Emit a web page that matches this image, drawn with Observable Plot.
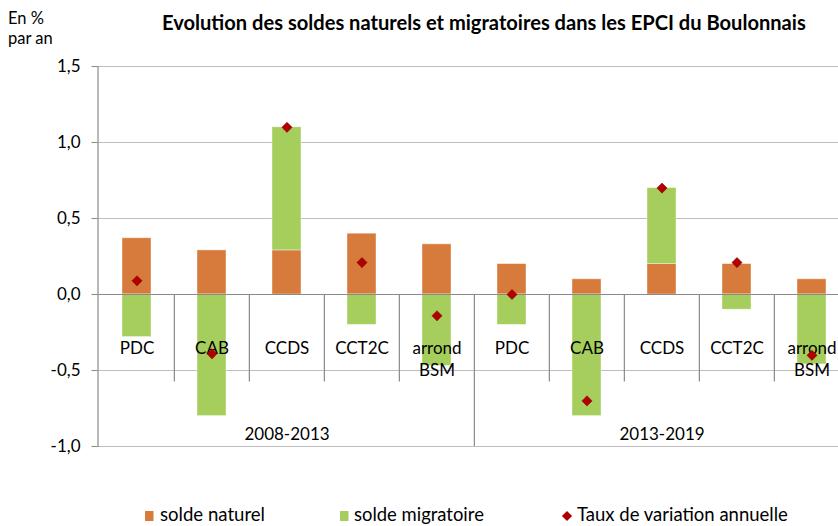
<!DOCTYPE html>
<html>
<head>
<meta charset="utf-8">
<script src="https://cdn.jsdelivr.net/npm/d3@7"></script>
<script src="https://cdn.jsdelivr.net/npm/@observablehq/plot@0.6"></script>
<style>
  html, body { margin: 0; padding: 0; background: #fff; overflow: hidden; }
  #wrap { position: relative; width: 838px; height: 526px; overflow: hidden; font-family: Lato, sans-serif; }
  #wrap > svg.plot-chart { position: absolute; left: 0; top: 0; }
  #overlay { position: absolute; left: 0; top: 0; pointer-events: none; }
</style>
</head>
<body>
<div id="wrap"></div>
<script>
// ---- data ----
const titleText = "Evolution des soldes naturels et migratoires dans les EPCI du Boulonnais";
const unitLines = ["En %", "par an"];
const periods = ["2008-2013", "2013-2019"];
const zones = ["PDC", "CAB", "CCDS", "CCT2C", "arrond\nBSM"];
const soldeNaturel    = [0.37, 0.29, 0.29, 0.40, 0.33,  0.20, 0.10, 0.20, 0.20, 0.10];
const soldeMigratoire = [-0.28, -0.80, 0.81, -0.20, -0.47, -0.20, -0.80, 0.50, -0.10, -0.46];
const tauxVariation   = [0.09, -0.39, 1.10, 0.21, -0.14,  0.00, -0.70, 0.70, 0.21, -0.40];
const seriesNames = ["solde naturel", "solde migratoire"];
const seriesColors = ["#D67B3B", "#A5CE5C"];
const tauxName = "Taux de variation annuelle";
const tauxColor = "#B00000";
const yTicks = [-1, -0.5, 0, 0.5, 1, 1.5];

// ---- build tables ----
const cats = periods.flatMap((p, pi) => zones.map((z, zi) => {
  const i = pi * zones.length + zi;
  return {period: p, zone: z, key: p + "|" + z, first: zi === 0,
          nat: soldeNaturel[i], mig: soldeMigratoire[i], taux: tauxVariation[i]};
}));
const bars = cats.flatMap(c => [
  {key: c.key, serie: seriesNames[0], value: c.nat},
  {key: c.key, serie: seriesNames[1], value: c.mig}
]);

const x0 = 97.5, step = 75.3;
const fmt = d => d.toFixed(1).replace(".", ",");

const chart = Plot.plot({
  width: 838, height: 470,
  marginTop: 66, marginBottom: 24, marginLeft: x0, marginRight: 0,
  style: {fontFamily: "Lato, sans-serif", fontSize: "17px", color: "#000", background: "transparent"},
  x: {type: "band", domain: cats.map(c => c.key), range: [x0, x0 + step * cats.length], padding: 0, axis: null},
  y: {domain: [-1, 1.5], axis: null},
  color: {domain: seriesNames, range: seriesColors},
  marks: [
    Plot.ruleY(yTicks.filter(t => t !== 0), {stroke: "#bdbdbd", strokeWidth: 1.2}),
    Plot.barY(bars, {x: "key", y: "value", fill: "serie", insetLeft: 23, insetRight: 23,
                     stroke: "#fff", strokeOpacity: 0.5, strokeWidth: 0.8}),
    Plot.ruleY([0], {stroke: "#8a8a8a", strokeWidth: 1.2}),
    Plot.ruleX(cats.filter((c, i) => i > 0), {x: "key", dx: -step / 2, y1: () => 0,
               y2: c => c.first ? -1 : -0.575, stroke: "#8a8a8a", strokeWidth: 1.2}),
    Plot.frame({anchor: "left", stroke: "#8a8a8a", strokeWidth: 1.2}),
    Plot.axisY({ticks: yTicks, tickFormat: fmt, tickSize: 6, tickPadding: 11.5,
                stroke: "#8a8a8a", fontSize: 17, fill: "#000"}),
    Plot.text(cats, {x: "key", y: () => 0, text: "zone", dy: 44, lineAnchor: "top",
                     lineHeight: 1.3, fontSize: 17, fill: "#000"}),
    Plot.text(periods, {x: p => p + "|CCDS", y: () => 0, text: p => p, dy: 139.7, fontSize: 17, fill: "#000"}),
    Plot.dot(cats, {x: "key", y: "taux", symbol: "diamond2", r: 4.6, fill: tauxColor, stroke: "#8b0000", strokeWidth: 0.5})
  ]
});
chart.classList.add("plot-chart");
const wrap = document.getElementById("wrap");
wrap.appendChild(chart);

// ---- overlay: title, unit, legend ----
const ov = d3.select(wrap).append("svg").attr("id", "overlay").attr("width", 838).attr("height", 526)
  .style("font-family", "Lato, sans-serif");

function fit(sel, target) {
  const w = sel.node().getComputedTextLength();
  const fs = parseFloat(sel.attr("font-size"));
  if (w > 0) sel.attr("font-size", (fs * target / w).toFixed(2));
  return sel;
}

fit(ov.append("text").attr("x", 162).attr("y", 29.5).attr("font-size", 16).attr("font-weight", "bold")
  .attr("fill", "#000").text(titleText), 644);

ov.append("text").attr("x", 8).attr("y", 23.5).attr("font-size", 16.5).attr("fill", "#000").text(unitLines[0]);
ov.append("text").attr("x", 8).attr("y", 43.5).attr("font-size", 16.5).attr("fill", "#000").text(unitLines[1]);

const legendItems = [
  {name: seriesNames[0], color: seriesColors[0], kind: "rect", mx: 145, tx: 160, tw: 105},
  {name: seriesNames[1], color: seriesColors[1], kind: "rect", mx: 340, tx: 354, tw: 130},
  {name: tauxName, color: tauxColor, kind: "diamond", mx: 567, tx: 577, tw: 211}
];
legendItems.forEach(it => {
  if (it.kind === "rect") {
    ov.append("rect").attr("x", it.mx).attr("y", 511).attr("width", 8.5).attr("height", 10).attr("fill", it.color);
  } else {
    ov.append("path").attr("d", d3.symbol(d3.symbolDiamond2, 66)()).attr("transform", "translate(" + it.mx + ",516)")
      .attr("fill", it.color);
  }
  fit(ov.append("text").attr("x", it.tx).attr("y", 521).attr("font-size", 17).attr("fill", "#000").text(it.name), it.tw);
});
</script>
</body>
</html>
